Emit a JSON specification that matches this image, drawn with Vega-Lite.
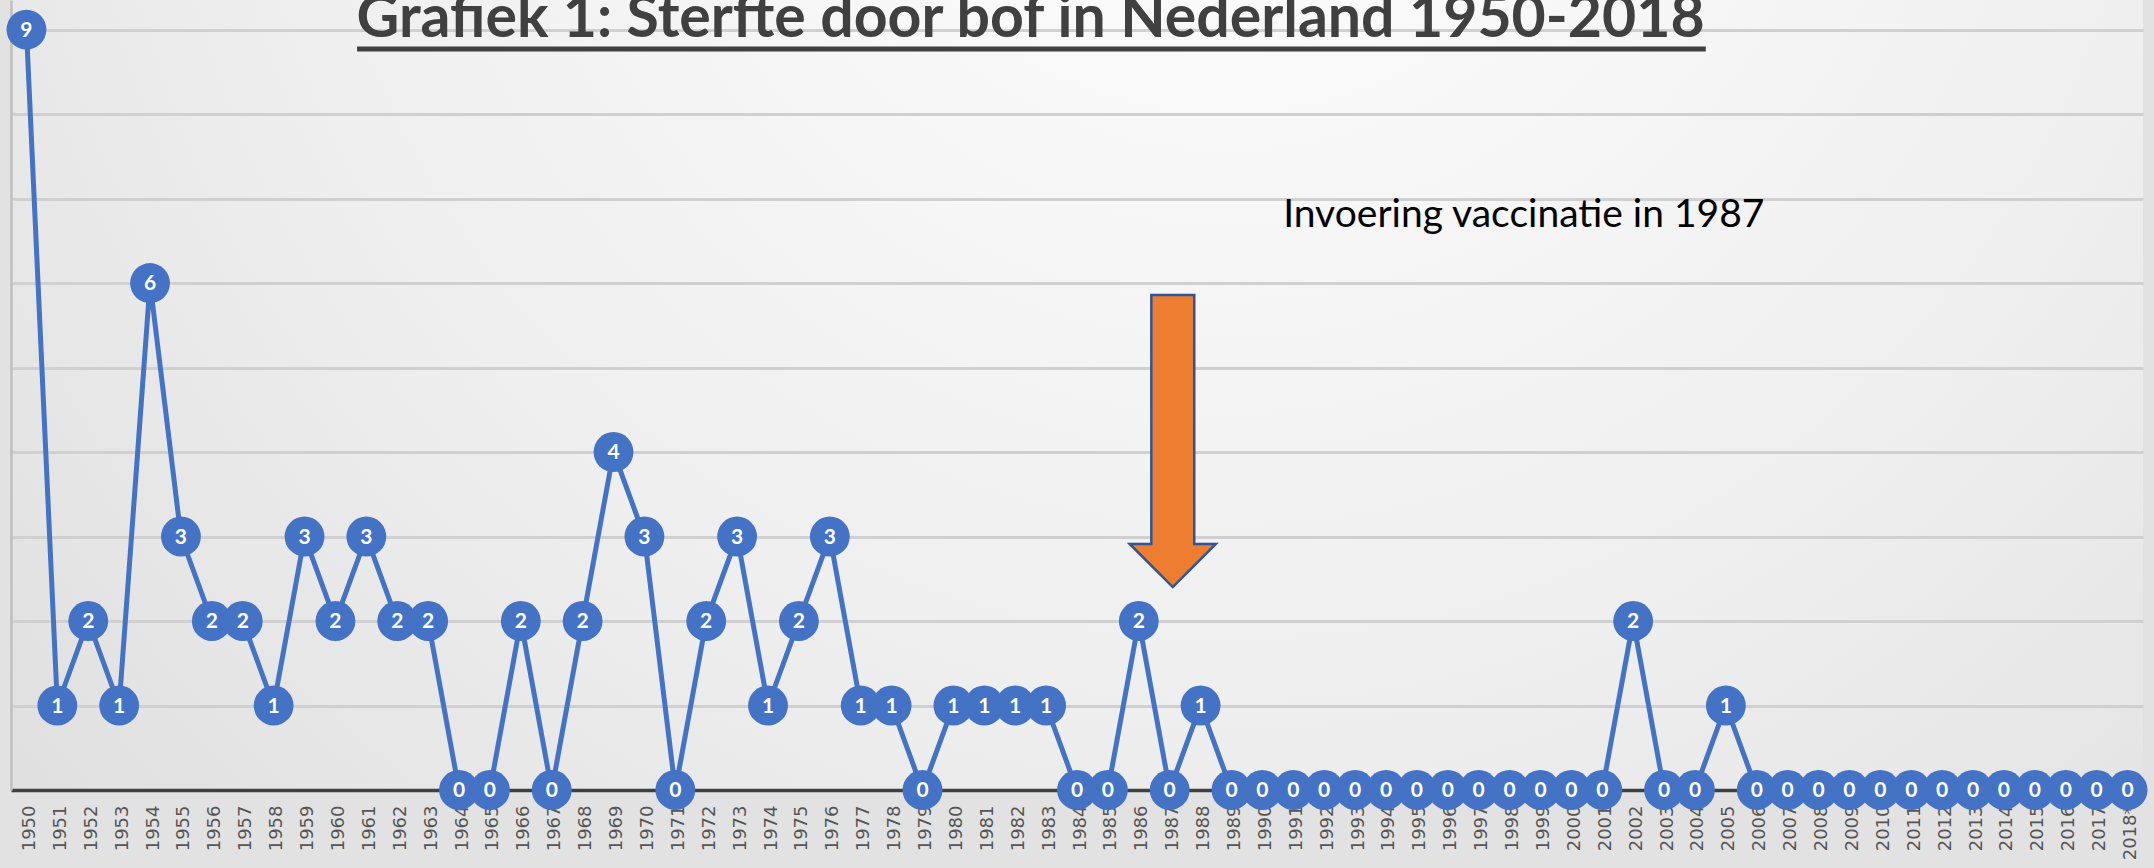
{
  "$schema": "https://vega.github.io/schema/vega-lite/v6.json",
  "width": 2132,
  "height": 790,
  "autosize": "none",
  "padding": {"left": 11, "right": 11, "top": 0, "bottom": 78},
  "background": "#e2e2e2",
  "config": {
    "view": {
      "stroke": null,
      "fill": {
        "gradient": "radial",
        "x1": 0.57, "y1": 0.18, "r1": 0,
        "x2": 0.57, "y2": 0.18, "r2": 0.9,
        "stops": [
          {"offset": 0, "color": "#ffffff"},
          {"offset": 0.5, "color": "#efefef"},
          {"offset": 1, "color": "#d9d9d9"}
        ]
      }
    }
  },
  "datasets": {
    "deaths": [
      {"year": 1950, "value": 9}, {"year": 1951, "value": 1}, {"year": 1952, "value": 2}, {"year": 1953, "value": 1},
      {"year": 1954, "value": 6}, {"year": 1955, "value": 3}, {"year": 1956, "value": 2}, {"year": 1957, "value": 2},
      {"year": 1958, "value": 1}, {"year": 1959, "value": 3}, {"year": 1960, "value": 2}, {"year": 1961, "value": 3},
      {"year": 1962, "value": 2}, {"year": 1963, "value": 2}, {"year": 1964, "value": 0}, {"year": 1965, "value": 0},
      {"year": 1966, "value": 2}, {"year": 1967, "value": 0}, {"year": 1968, "value": 2}, {"year": 1969, "value": 4},
      {"year": 1970, "value": 3}, {"year": 1971, "value": 0}, {"year": 1972, "value": 2}, {"year": 1973, "value": 3},
      {"year": 1974, "value": 1}, {"year": 1975, "value": 2}, {"year": 1976, "value": 3}, {"year": 1977, "value": 1},
      {"year": 1978, "value": 1}, {"year": 1979, "value": 0}, {"year": 1980, "value": 1}, {"year": 1981, "value": 1},
      {"year": 1982, "value": 1}, {"year": 1983, "value": 1}, {"year": 1984, "value": 0}, {"year": 1985, "value": 0},
      {"year": 1986, "value": 2}, {"year": 1987, "value": 0}, {"year": 1988, "value": 1}, {"year": 1989, "value": 0},
      {"year": 1990, "value": 0}, {"year": 1991, "value": 0}, {"year": 1992, "value": 0}, {"year": 1993, "value": 0},
      {"year": 1994, "value": 0}, {"year": 1995, "value": 0}, {"year": 1996, "value": 0}, {"year": 1997, "value": 0},
      {"year": 1998, "value": 0}, {"year": 1999, "value": 0}, {"year": 2000, "value": 0}, {"year": 2001, "value": 0},
      {"year": 2002, "value": 2}, {"year": 2003, "value": 0}, {"year": 2004, "value": 0}, {"year": 2005, "value": 1},
      {"year": 2006, "value": 0}, {"year": 2007, "value": 0}, {"year": 2008, "value": 0}, {"year": 2009, "value": 0},
      {"year": 2010, "value": 0}, {"year": 2011, "value": 0}, {"year": 2012, "value": 0}, {"year": 2013, "value": 0},
      {"year": 2014, "value": 0}, {"year": 2015, "value": 0}, {"year": 2016, "value": 0}, {"year": 2017, "value": 0},
      {"year": 2018, "value": 0}
    ],
    "title": [{"year": 1982.5, "value": 8.91, "label": "Grafiek 1: Sterfte door bof in Nederland 1950-2018"}],
    "underline": [{"year": 1960.7, "year2": 2004.35, "value": 8.77}],
    "note": [{"year": 1998.46, "value": 6.66, "label": "Invoering vaccinatie in 1987"}],
    "arrow": [{"year": 1987.1, "value": 4.13}]
  },
  "encoding": {
    "x": {
      "field": "year",
      "type": "quantitative",
      "scale": {"domain": [1949.5, 2018.5], "nice": false, "zero": false},
      "axis": {
        "title": null,
        "grid": false,
        "ticks": false,
        "domainColor": "#404040",
        "domainWidth": 3.5,
        "labelAngle": 270,
        "labelFont": "DejaVu Sans",
        "labelFontSize": 18,
        "labelColor": "#555555",
        "labelPadding": 15,
        "labelOffset": 3,
        "labelOverlap": false,
        "labelFlush": false,
        "format": "d",
        "labelExpr": "datum.value == 2018 ? '2018*' : datum.label",
        "values": [1950,1951,1952,1953,1954,1955,1956,1957,1958,1959,1960,1961,1962,1963,1964,1965,1966,1967,1968,1969,1970,1971,1972,1973,1974,1975,1976,1977,1978,1979,1980,1981,1982,1983,1984,1985,1986,1987,1988,1989,1990,1991,1992,1993,1994,1995,1996,1997,1998,1999,2000,2001,2002,2003,2004,2005,2006,2007,2008,2009,2010,2011,2012,2013,2014,2015,2016,2017,2018]
      }
    },
    "y": {
      "field": "value",
      "type": "quantitative",
      "scale": {"domain": [0, 9.35], "nice": false, "zero": true},
      "axis": {
        "title": null,
        "labels": false,
        "ticks": false,
        "grid": true,
        "gridColor": "#d0d0d0",
        "gridWidth": 3,
        "domainColor": "#bfbfbf",
        "domainWidth": 2.5,
        "values": [1, 2, 3, 4, 5, 6, 7, 8, 9]
      }
    }
  },
  "layer": [
    {
      "data": {"name": "deaths"},
      "mark": {"type": "line", "color": "#4472C4", "strokeWidth": 5}
    },
    {
      "data": {"name": "deaths"},
      "mark": {"type": "point", "shape": "circle", "filled": true, "size": 1590, "color": "#4472C4", "opacity": 1}
    },
    {
      "data": {"name": "deaths"},
      "mark": {"type": "text", "color": "#ffffff", "font": "Lato", "fontWeight": "bold", "fontSize": 21, "align": "center", "baseline": "middle", "dy": 1},
      "encoding": {"text": {"field": "value", "type": "quantitative"}}
    },
    {
      "data": {"name": "underline"},
      "mark": {"type": "rule", "color": "#404040", "strokeWidth": 5},
      "encoding": {"x2": {"field": "year2"}}
    },
    {
      "data": {"name": "title"},
      "mark": {"type": "text", "color": "#404040", "font": "Lato", "fontWeight": "bold", "fontSize": 59, "align": "center", "baseline": "alphabetic"},
      "encoding": {"text": {"field": "label", "type": "nominal"}}
    },
    {
      "data": {"name": "note"},
      "mark": {"type": "text", "color": "#000000", "font": "Lato", "fontSize": 39, "align": "center", "baseline": "alphabetic"},
      "encoding": {"text": {"field": "label", "type": "nominal"}}
    },
    {
      "data": {"name": "arrow"},
      "mark": {
        "type": "point",
        "shape": "M-0.147,-1L0.147,-1L0.147,0.705L0.295,0.705L0,1L-0.295,0.705L-0.147,0.705Z",
        "size": 85264,
        "filled": true,
        "fill": "#ED7D31",
        "stroke": "#2F5597",
        "strokeWidth": 2.5,
        "opacity": 1
      }
    }
  ]
}
